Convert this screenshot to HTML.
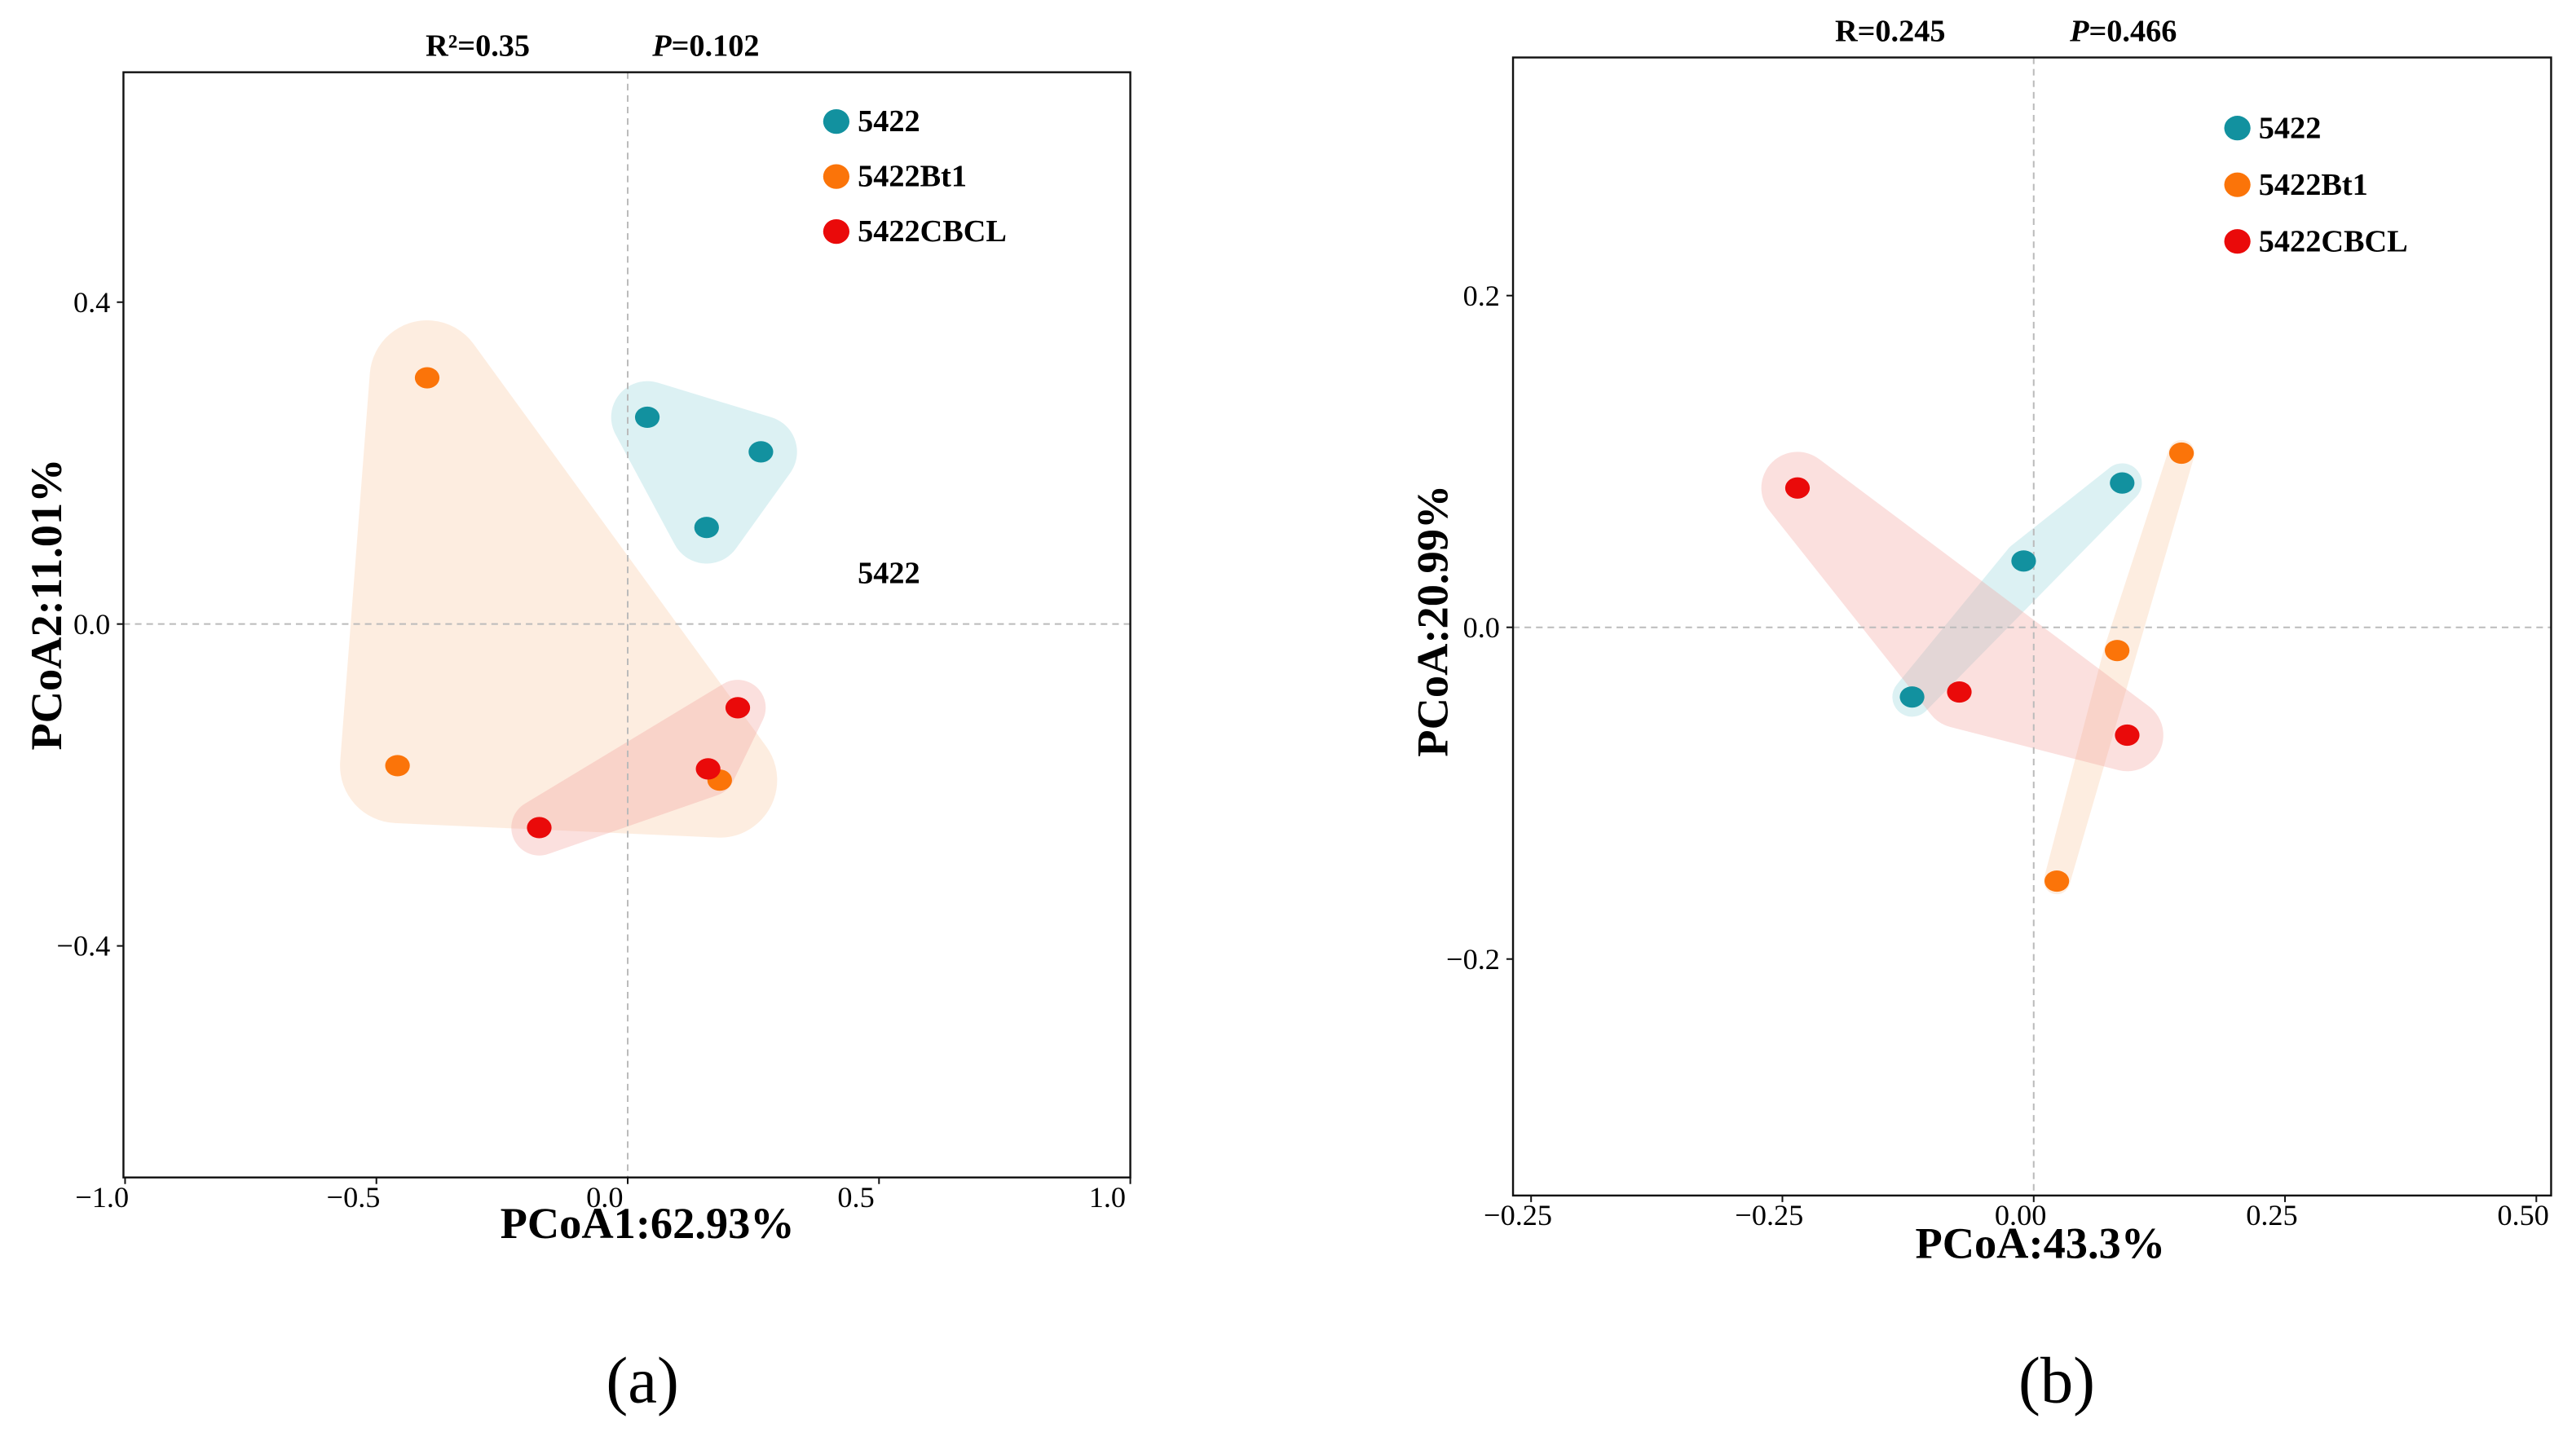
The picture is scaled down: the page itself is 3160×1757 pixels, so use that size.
<!DOCTYPE html>
<html><head><meta charset="utf-8"><style>
html,body{margin:0;padding:0;background:#fff;}
svg{display:block;font-family:"Liberation Serif",serif;}
</style></head><body>
<svg id="fig" width="3160" height="1757" viewBox="0 0 1568 872" xmlns="http://www.w3.org/2000/svg">
<rect width="1568" height="872" fill="#fff"/>
<g id="pa"></g>
<g id="pb"></g>
</svg>
<script>
const groups = ["5422","5422Bt1","5422CBCL"];
const colors = ["#12919f","#fb7409","#ea0a0a"];
const hullColors = ["#8fd3d9","#fbc69b","#f39a95"];
// Panel a data
const aX_5422 = [0.039,0.265,0.157];
const aY_5422 = [0.257,0.214,0.120];
const aX_Bt1 = [-0.399,-0.458,0.183];
const aY_Bt1 = [0.306,-0.176,-0.194];
const aX_CBCL = [0.219,0.160,-0.176];
const aY_CBCL = [-0.104,-0.180,-0.253];
const aXTicks = [-1.0,-0.5,0.0,0.5,1.0];
const aXTickLabels = ["\u22121.0","\u22120.5","0.0","0.5","1.0"];
const aYTicks = [0.4,0.0,-0.4];
const aYTickLabels = ["0.4","0.0","\u22120.4"];
// Panel b data
const bX_5422 = [0.088,-0.010,-0.121];
const bY_5422 = [0.087,0.040,-0.042];
const bX_Bt1 = [0.147,0.083,0.023];
const bY_Bt1 = [0.105,-0.014,-0.153];
const bX_CBCL = [-0.235,-0.074,0.093];
const bY_CBCL = [0.084,-0.039,-0.065];
const bXTicks = [-0.5,-0.25,0.0,0.25,0.5];
const bXTickLabels = ["\u22120.25","\u22120.25","0.00","0.25","0.50"];
const bYTicks = [0.2,0.0,-0.2];
const bYTickLabels = ["0.2","0.0","\u22120.2"];

const NS="http://www.w3.org/2000/svg";
function mk(parent,tag,attrs,text){const e=document.createElementNS(NS,tag);for(const k in attrs)e.setAttribute(k,attrs[k]);if(text!==undefined)e.textContent=text;parent.appendChild(e);return e;}

function hull(pts){
  pts=pts.slice().sort((a,b)=>a[0]-b[0]||a[1]-b[1]);
  const cr=(o,a,b)=>(a[0]-o[0])*(b[1]-o[1])-(a[1]-o[1])*(b[0]-o[0]);
  const lo=[],up=[];
  for(const p of pts){while(lo.length>=2&&cr(lo[lo.length-2],lo[lo.length-1],p)<=0)lo.pop();lo.push(p);}
  for(const p of pts.slice().reverse()){while(up.length>=2&&cr(up[up.length-2],up[up.length-1],p)<=0)up.pop();up.push(p);}
  up.pop();lo.pop();return lo.concat(up);
}

function panel(g,cfg){
  const sx=v=>cfg.x0+v*cfg.kx, sy=v=>cfg.y0-v*cfg.ky;
  const L=cfg.box[0],T=cfg.box[1],R=cfg.box[2],B=cfg.box[3];
  cfg.series.forEach((s,i)=>{
    const pts=hull(s.x.map((v,j)=>[sx(v),sy(s.y[j])]));
    const hg=mk(g,'g',{opacity:0.3});
    
    
    mk(hg,'polygon',{points:pts.map(p=>p.join(',')).join(' '),fill:hullColors[i],stroke:hullColors[i],'stroke-width':cfg.pad[i],'stroke-linejoin':'round'});
  });
  const zx=mk(g,'line',{x1:sx(0),x2:sx(0),y1:T,y2:B,stroke:'#bbb','stroke-dasharray':'4,3','stroke-width':1});
  
  const zy=mk(g,'line',{x1:L,x2:R,y1:sy(0),y2:sy(0),stroke:'#bbb','stroke-dasharray':'4,3','stroke-width':1});
  
  cfg.series.forEach((s,i)=>{
    s.x.forEach((v,j)=>{
      const c=mk(g,'ellipse',{cx:sx(v),cy:sy(s.y[j]),rx:7.5,ry:6.5,fill:colors[i]});
      
      
    });
  });
  const fr=mk(g,'rect',{x:L,y:T,width:R-L,height:B-T,fill:'none',stroke:'#111','stroke-width':1.2});
  
  cfg.xt.forEach((v,i)=>{
    const x=sx(v);
    mk(g,'line',{x1:x,x2:x,y1:B,y2:B+4,stroke:'#111'});
    const t=mk(g,'text',{x:x+cfg.xlOff,y:B+18,'text-anchor':'middle','font-size':18},cfg.xtl[i]);
    
  });
  cfg.yt.forEach((v,i)=>{
    const y=sy(v);
    mk(g,'line',{x1:L-4,x2:L,y1:y,y2:y,stroke:'#111'});
    const t=mk(g,'text',{x:L-8,y:y+6,'text-anchor':'end','font-size':18},cfg.ytl[i]);
    
  });
  groups.forEach((n,i)=>{
    const y=cfg.leg[1]+i*cfg.legStep;
    const c=mk(g,'ellipse',{cx:cfg.leg[0],cy:y,rx:8,ry:7.5,fill:colors[i]});
    
    const t=mk(g,'text',{x:cfg.leg[0]+13,y:y+6,'font-size':19,'font-weight':'bold'},n);
    
  });
}

panel(document.getElementById('pa'),{x0:382,kx:306,y0:380,ky:490,box:[75,44,688,717],
  series:[{x:aX_5422,y:aY_5422},{x:aX_Bt1,y:aY_Bt1},{x:aX_CBCL,y:aY_CBCL}],
  pad:[44,70,34],xt:aXTicks,xtl:aXTickLabels,yt:aYTicks,ytl:aYTickLabels,xlOff:-14,leg:[509,74],legStep:33.5});
panel(document.getElementById('pb'),{x0:1238,kx:612,y0:382,ky:1010,box:[921,35,1553,728],
  series:[{x:bX_5422,y:bY_5422},{x:bX_Bt1,y:bY_Bt1},{x:bX_CBCL,y:bY_CBCL}],
  pad:[24,16,44],xt:bXTicks,xtl:bXTickLabels,yt:bYTicks,ytl:bYTickLabels,xlOff:-8,leg:[1362,78],legStep:34.5});
</script>
<svg style="position:absolute;left:0;top:0" width="3160" height="1757" viewBox="0 0 1568 872" xmlns="http://www.w3.org/2000/svg" font-family="Liberation Serif, serif">
<g>
<text x="259" y="34" font-size="19" font-weight="bold">R²=0.35</text>
<text x="397" y="34" font-size="19" font-weight="bold"><tspan font-style="italic">P</tspan>=0.102</text>
<text x="522" y="355" font-size="19" font-weight="bold">5422</text>
<text x="394" y="754" font-size="27" font-weight="bold" text-anchor="middle">PCoA1:62.93%</text>
<text transform="translate(37,368) rotate(-90)" font-size="27" font-weight="bold" text-anchor="middle">PCoA2:11.01%</text>
<text x="391" y="854" font-size="40" text-anchor="middle">(a)</text>
</g>
<g>
<text x="1117" y="25" font-size="19" font-weight="bold">R=0.245</text>
<text x="1260" y="25" font-size="19" font-weight="bold"><tspan font-style="italic">P</tspan>=0.466</text>
<text x="1242" y="766" font-size="27" font-weight="bold" text-anchor="middle">PCoA:43.3%</text>
<text transform="translate(881,378) rotate(-90)" font-size="27" font-weight="bold" text-anchor="middle">PCoA:20.99%</text>
<text x="1252" y="854" font-size="40" text-anchor="middle">(b)</text>
</g>
</svg>
</body></html>
